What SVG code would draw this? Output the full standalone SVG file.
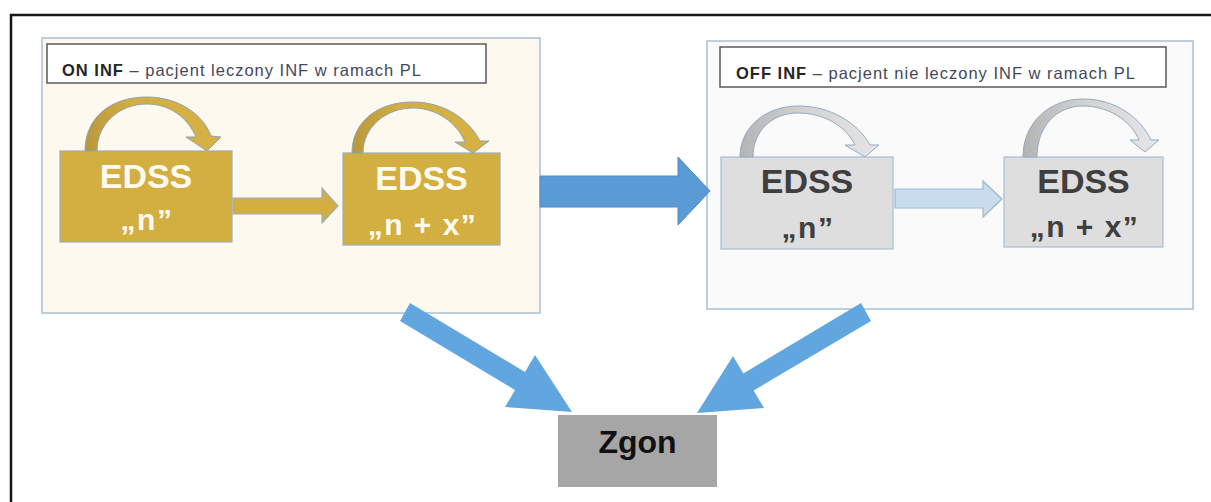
<svg xmlns="http://www.w3.org/2000/svg" width="1211" height="502" viewBox="0 0 1211 502">
  <defs>
    <linearGradient id="goldLoop" x1="0" y1="0" x2="1" y2="0">
      <stop offset="0" stop-color="#B9983C"/>
      <stop offset="0.35" stop-color="#D3AE40"/>
      <stop offset="1" stop-color="#D6B145"/>
    </linearGradient>
    <linearGradient id="grayLoop" x1="0" y1="0" x2="1" y2="0">
      <stop offset="0" stop-color="#B4B4B4"/>
      <stop offset="0.45" stop-color="#D2D2D2"/>
      <stop offset="1" stop-color="#E6E6E6"/>
    </linearGradient>
    <style>
      .frame { fill: none; stroke: #161616; stroke-width: 2.5; }
      .panel { stroke: #A8BFD7; stroke-width: 1.5; }
      .titlebox { fill: #FFFFFF; stroke: #5A5A5A; stroke-width: 1.5; }
      .title { font-family: "Liberation Sans", Arial, sans-serif; font-size: 16.5px; letter-spacing: 1px; fill: #45475A; }
      .title .lead { font-weight: bold; fill: #262626; }
      .gold { fill: #D3AE40; stroke: #9CADBC; stroke-width: 1.2; }
      .grey { fill: #DEDEDE; stroke: #A9BDD2; stroke-width: 1.2; }
      .big { font-family: "Liberation Sans", Arial, sans-serif; font-weight: bold; font-size: 34px; text-anchor: middle; }
      .sub { font-family: "Liberation Sans", Arial, sans-serif; font-weight: bold; font-size: 30px; letter-spacing: 1.5px; text-anchor: middle; }
      .onGold { fill: #FFFBF0; }
      .onGrey { fill: #3F3F3F; }
      .loopGold { fill: url(#goldLoop); stroke: #8FA3B6; stroke-width: 1; }
      .loopGrey { fill: url(#grayLoop); stroke: #93ABC3; stroke-width: 1; }
      .stepGold { fill: #D3AE40; stroke: #9CADBC; stroke-width: 1.2; }
      .stepBlue { fill: #C9DCEE; stroke: #9DB8D2; stroke-width: 1.2; }
      .switch { fill: #5B9BD5; stroke: #4E8CC5; stroke-width: 1; }
      .death { fill: #62A6E0; }
    </style>
  </defs>

  <rect width="1211" height="502" fill="#FFFFFF"/>
  <!-- outer frame, running past the right and bottom edges -->
  <rect class="frame" x="11" y="15" width="1300" height="600"/>

  <!-- ON INF panel -->
  <g id="panel-on">
    <rect class="panel" x="42" y="38" width="498" height="275" fill="#FEF9EE"/>
    <rect class="titlebox" x="47" y="44" width="439" height="39"/>
    <text class="title" x="62" y="76"><tspan class="lead">ON INF</tspan> – pacjent leczony INF w ramach PL</text>
  </g>

  <!-- OFF INF panel -->
  <g id="panel-off">
    <rect class="panel" x="707" y="41" width="486" height="268" fill="#FAFAFA"/>
    <rect class="titlebox" x="720" y="47" width="446" height="40"/>
    <text class="title" x="736" y="79"><tspan class="lead">OFF INF</tspan> – pacjent nie leczony INF w ramach PL</text>
  </g>

  <g id="on-n">
    <rect class="gold" x="60" y="151" width="172" height="91"/>
    <text class="big onGold" x="146" y="188">EDSS</text>
    <text class="sub onGold" x="147" y="230">„n”</text>
  </g>

  <g id="on-nx">
    <rect class="gold" x="343" y="153" width="157" height="92"/>
    <text class="big onGold" x="421.5" y="190">EDSS</text>
    <text class="sub onGold" x="422.5" y="235">„n + x”</text>
  </g>

  <g id="off-n">
    <rect class="grey" x="721" y="157" width="172" height="92"/>
    <text class="big onGrey" x="807" y="193">EDSS</text>
    <text class="sub onGrey" x="808" y="238">„n”</text>
  </g>

  <g id="off-nx">
    <rect class="grey" x="1004" y="157" width="159" height="90"/>
    <text class="big onGrey" x="1083.5" y="193">EDSS</text>
    <text class="sub onGrey" x="1084.5" y="237">„n + x”</text>
  </g>

  <g id="zgon">
    <rect x="558" y="415" width="159" height="72" fill="#A6A6A6"/>
    <text x="637.5" y="453" font-family="Liberation Sans, Arial, sans-serif" font-weight="bold" font-size="32" text-anchor="middle" fill="#111111">Zgon</text>
  </g>

  <g id="connectors">
    <!-- self loops: staying on the same EDSS level -->
    <path class="loopGold" d="M85,151 C85,118 110,97 147,97 C178,97 203,114 211,136 L221,137 L207,151 L186,137 L196,137 C188,118 170,104 147,104 C119,104 97,124 97,151 Z"/>
    <path class="loopGold" d="M352,153 C352,122 377,102 413,102 C443,102 468,118 480,141 L489,141 L473,153 L455,142 L465,142 C457,123 437,108 413,108 C386,108 363,127 363,153 Z"/>
    <path class="loopGrey" d="M740,157 C740,126 767,106 798,106 C830,106 857,122 870,145 L879,145 L865,157 L845,145 L855,145 C846,126 824,113 798,113 C772,113 753,131 753,157 Z"/>
    <path class="loopGrey" d="M1023,157 C1023,122 1050,99 1083,99 C1115,99 1140,117 1151,140 L1159,140 L1145,152 L1130,140 L1139,140 C1131,121 1109,106 1083,106 C1056,106 1037,127 1037,157 Z"/>

    <!-- progression n -> n + x -->
    <path class="stepGold" d="M233,198 L322,198 L322,188 L338,206 L322,223 L322,214 L233,214 Z"/>
    <path class="stepBlue" d="M895,189 L983,189 L983,181 L1002,199 L983,217 L983,208 L895,208 Z"/>

    <!-- ON INF -> OFF INF -->
    <path class="switch" d="M540,176 L678,176 L678,157 L710,191 L678,225 L678,207 L540,207 Z"/>

    <!-- both panels -> Zgon -->
    <polygon class="death" points="410,303 525,372 535,355 572,412 505,407 515,390 400,321"/>
    <polygon class="death" points="861,303 743.4,373.4 733,356 697,413 764,408 753.6,390.6 871,321"/>
  </g>
</svg>
